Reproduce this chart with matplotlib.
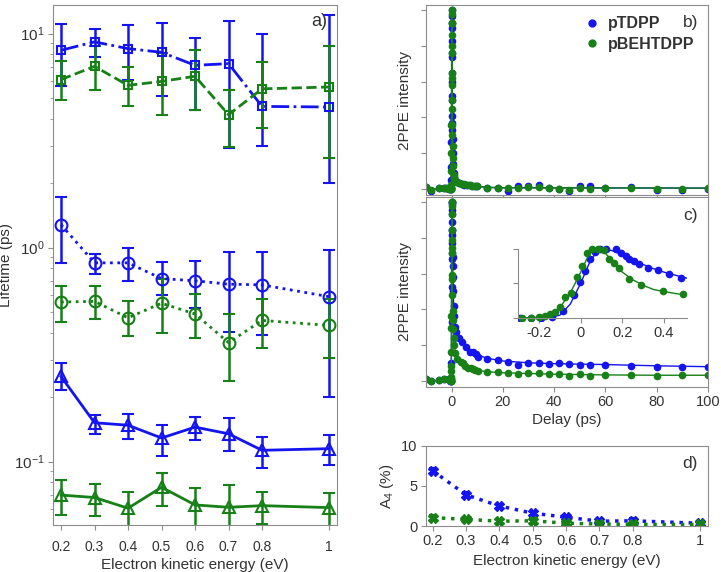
import numpy as np
import matplotlib
matplotlib.use("Agg")
import matplotlib.pyplot as plt

plt.rcParams['font.family'] = ['Liberation Sans', 'DejaVu Sans']
plt.rcParams['mathtext.default'] = 'regular'
plt.rcParams['text.color'] = '#333333'
plt.rcParams['axes.labelcolor'] = '#333333'
plt.rcParams['xtick.color'] = '#333333'
plt.rcParams['ytick.color'] = '#333333'

BLUE = '#1414f0'
GREEN = '#178017'
SPINE = '#8c8c8c'

# ---- panel a: lifetimes vs kinetic energy ----
energy = [0.2, 0.3, 0.4, 0.5, 0.6, 0.7, 0.8, 1.0]

sq_blue = [8.36, 9.15, 8.51, 8.18, 7.11, 7.24, 4.57, 4.54]
sq_blue_hi = [11.1, 10.5, 11.0, 11.2, 9.55, 11.5, 10.0, 12.2]
sq_blue_lo = [5.71, 7.78, 6.1, 5.09, 4.41, 2.92, 3.0, 2.0]
sq_green = [6.1, 7.03, 5.73, 5.98, 6.32, 4.18, 5.52, 5.63]
sq_green_hi = [7.48, 8.72, 6.99, 8.12, 8.42, 5.48, 7.37, 8.72]
sq_green_lo = [4.88, 5.48, 4.61, 4.18, 4.38, 2.94, 3.62, 2.62]

ci_blue = [1.28, 0.849, 0.849, 0.717, 0.70, 0.675, 0.67, 0.59]
ci_blue_hi = [1.72, 0.934, 0.996, 0.859, 0.87, 0.95, 0.95, 0.98]
ci_blue_lo = [0.849, 0.757, 0.70, 0.60, 0.52, 0.405, 0.39, 0.20]
ci_green = [0.557, 0.561, 0.47, 0.55, 0.49, 0.36, 0.457, 0.433]
ci_green_hi = [0.66, 0.66, 0.561, 0.71, 0.61, 0.49, 0.577, 0.577]
ci_green_lo = [0.45, 0.465, 0.385, 0.40, 0.38, 0.238, 0.34, 0.306]

tr_blue = [0.25, 0.152, 0.148, 0.129, 0.145, 0.135, 0.113, 0.115]
tr_blue_hi = [0.289, 0.165, 0.167, 0.148, 0.162, 0.16, 0.13, 0.133]
tr_blue_lo = [0.216, 0.135, 0.127, 0.106, 0.126, 0.112, 0.093, 0.096]
tr_green = [0.0698, 0.068, 0.0606, 0.0759, 0.0628, 0.0612, 0.0623, 0.061]
tr_green_hi = [0.0821, 0.079, 0.0724, 0.0883, 0.0751, 0.0778, 0.0724, 0.0717]
tr_green_lo = [0.0564, 0.0557, 0.049, 0.0621, 0.049, 0.048, 0.051, 0.049]

# ---- panel b: normalised 2PPE transients ----
b_t = [-10, -8, -5, -3, -2, -1, -0.5, -0.3, -0.25, -0.2, -0.15, -0.1, -0.07,
       -0.04, -0.02, 0, 0.02, 0.04, 0.06, 0.08, 0.1, 0.12, 0.15, 0.18, 0.2,
       0.25, 0.3, 0.35, 0.4, 0.5, 0.6, 0.8, 1, 1.3, 2, 3, 4, 5, 6, 7, 8, 9,
       10, 14, 18, 22, 26, 30, 34, 38, 42, 46, 50, 54, 60, 70, 80, 90, 100]
b_blue = [0.01, -0.012, 0.005, 0.005, 0.006, 0.0, 0.0, 0.0, 0.0, 0.002, 0.01,
          0.05, 0.12, 0.26, 0.37, 0.52, 0.6, 0.76, 0.9, 0.97, 1.0, 0.93, 0.83,
          0.74, 0.65, 0.5, 0.41, 0.33, 0.28, 0.2, 0.14, 0.09, 0.065, 0.045,
          0.04, 0.032, 0.027, 0.024, 0.021, 0.019, 0.018, 0.015, 0.013, 0.004,
          0.004, -0.015, 0.013, 0.017, 0.022, 0.004, -0.002, -0.015, 0.013,
          0.018, 0.002, 0.008, -0.006, -0.006, 0.0]
b_green = [0.008, -0.005, 0.004, 0.006, 0.004, 0.0, 0.002, 0.0, 0.0, 0.005,
           0.02, 0.1, 0.2, 0.36, 0.5, 0.65, 0.8, 0.93, 1.0, 0.98, 0.93, 0.86,
           0.76, 0.62, 0.58, 0.45, 0.36, 0.3, 0.24, 0.17, 0.13, 0.08, 0.06,
           0.048, 0.04, 0.034, 0.028, 0.025, 0.022, 0.02, 0.018, 0.016, 0.014,
           0.006, 0.004, 0.006, 0.007, 0.009, 0.009, 0.004, 0.0, -0.006, 0.007,
           -0.002, 0.004, 0.004, -0.002, -0.002, 0.004]
b_fit_t = [-10, -0.3, -0.15, -0.1, -0.05, 0, 0.05, 0.1, 0.15, 0.2, 0.3, 0.5,
           0.7, 1, 2, 4, 8, 14, 20, 100]
b_fit_blue = [0, 0, 0.005, 0.05, 0.25, 0.52, 0.85, 1.0, 0.83, 0.65, 0.41, 0.2,
              0.11, 0.065, 0.04, 0.027, 0.018, 0.008, 0.006, 0.004]
b_fit_green = [0, 0, 0.02, 0.1, 0.36, 0.65, 0.97, 0.93, 0.76, 0.58, 0.36, 0.17,
               0.1, 0.06, 0.04, 0.028, 0.018, 0.008, 0.006, 0.004]

# ---- panel c: transients at another energy (with inset) ----
c_t_blue = [-10, -8, -5, -3, -1, -0.5,
            -0.29, -0.24, -0.19, -0.14, -0.085, -0.031, -0.003, 0.021, 0.045,
            0.07, 0.094, 0.123, 0.172, 0.192, 0.216, 0.232, 0.254, 0.281,
            0.322, 0.371, 0.427, 0.484,
            0.6, 0.8, 1.0, 1.3, 1.9, 3.0, 3.9, 5.8, 7.1, 8.4, 9.7, 10.4,
            14, 18, 22, 26, 30, 34, 38, 42, 46, 50, 54, 60, 70, 80, 90, 100]
c_blue = [0.008, -0.003, 0.005, 0.008, 0.01, 0.0,
          0.0, 0.0, 0.0, 0.01, 0.097, 0.33, 0.524, 0.683, 0.846, 0.956, 1.0,
          1.0, 0.99, 0.934, 0.89, 0.846, 0.815, 0.77, 0.714, 0.692, 0.64, 0.58,
          0.5, 0.42, 0.36, 0.30, 0.27, 0.24, 0.218, 0.19, 0.163, 0.159, 0.148,
          0.13,
          0.12, 0.116, 0.107, 0.088, 0.10, 0.10, 0.092, 0.097, 0.092, 0.09,
          0.09, 0.09, 0.082, 0.077, 0.079, 0.077]
c_t_green = [-10, -8, -5, -3, -1, -0.5,
             -0.28, -0.239, -0.199, -0.174, -0.15, -0.125, -0.101, -0.077,
             -0.047, -0.02, 0.005, 0.029, 0.054, 0.081, 0.11, 0.135, 0.159,
             0.183, 0.232, 0.289, 0.395, 0.493,
             0.6, 0.8, 1.0, 1.3, 2.3, 3.5, 4.5, 5.4, 6.5, 7.4, 8.4, 9.3, 10.4,
             14, 18, 22, 26, 30, 34, 38, 42, 46, 50, 54, 60, 70, 80, 90, 100]
c_green = [0.008, 0.0, 0.005, 0.008, 0.01, 0.005,
           0.0, 0.0, 0.01, 0.022, 0.053, 0.084, 0.163, 0.295, 0.361, 0.595,
           0.745, 0.934, 1.0, 1.0, 0.978, 0.846, 0.789, 0.714, 0.568, 0.48,
           0.392, 0.339,
           0.29, 0.24, 0.2, 0.153, 0.122, 0.107, 0.097, 0.084, 0.073, 0.069,
           0.065, 0.06, 0.054,
           0.05, 0.047, 0.041, 0.038, 0.041, 0.041, 0.036, 0.038, 0.026, 0.036,
           0.028, 0.03, 0.03, 0.025, 0.03, 0.03]
c_fit_t = [-10, -0.3, -0.2, -0.15, -0.1, -0.05, 0, 0.04, 0.07, 0.1, 0.15, 0.2,
           0.25, 0.3, 0.35, 0.4, 0.45, 0.5, 0.7, 1, 1.5, 2, 3, 4, 6, 8, 10, 14,
           20, 30, 40, 60, 80, 100]
c_fit_blue = [0, 0, 0, 0.005, 0.04, 0.2, 0.5, 0.78, 0.93, 1.0, 0.97, 0.91, 0.84,
              0.77, 0.71, 0.66, 0.62, 0.58, 0.46, 0.37, 0.31, 0.28, 0.24, 0.215,
              0.18, 0.16, 0.145, 0.125, 0.11, 0.1, 0.095, 0.09, 0.083, 0.078]
c_fit_green = [0, 0, 0.01, 0.04, 0.15, 0.36, 0.66, 0.92, 1.0, 0.99, 0.83, 0.66,
               0.55, 0.47, 0.41, 0.38, 0.355, 0.33, 0.26, 0.2, 0.155, 0.13, 0.11,
               0.097, 0.075, 0.066, 0.057, 0.05, 0.044, 0.04, 0.036, 0.032,
               0.03, 0.03]

# ---- panel d: A4 amplitude ----
a4_blue = [6.9, 3.9, 2.5, 1.6, 1.1, 0.6, 0.65, 0.35]
a4_green = [1.05, 0.83, 0.6, 0.65, 0.35, 0.25, 0.2, 0.2]
a4_err = 0.3

e_ticks = [0.2, 0.3, 0.4, 0.5, 0.6, 0.7, 0.8, 1.0]
e_labels = ['0.2', '0.3', '0.4', '0.5', '0.6', '0.7', '0.8', '1']


def style(ax, size=10):
    for s in ax.spines.values():
        s.set_color(SPINE)
    ax.tick_params(which='both', direction='out', color=SPINE, labelsize=size,
                   pad=2.5)


def asym(v, lo, hi):
    v = np.array(v)
    return [v - np.array(lo), np.array(hi) - v]


fig = plt.figure(figsize=(7.21, 5.72), dpi=100)

# panel a
axa = fig.add_axes([0.0735, 0.0822, 0.394, 0.909])
eb = dict(capsize=4, capthick=1.8, elinewidth=1.8, lw=2, mfc='none', mew=1.5)
axa.errorbar(energy, sq_blue, yerr=asym(sq_blue, sq_blue_lo, sq_blue_hi),
             color=BLUE, marker='s', ms=6, ls='-.', **eb)
axa.errorbar(energy, sq_green, yerr=asym(sq_green, sq_green_lo, sq_green_hi),
             color=GREEN, marker='s', ms=6, ls='--', **eb)
axa.errorbar(energy, ci_blue, yerr=asym(ci_blue, ci_blue_lo, ci_blue_hi),
             color=BLUE, marker='o', ms=8.5, ls=':', **eb)
axa.errorbar(energy, ci_green, yerr=asym(ci_green, ci_green_lo, ci_green_hi),
             color=GREEN, marker='o', ms=8.5, ls=':', **eb)
axa.errorbar(energy, tr_blue, yerr=asym(tr_blue, tr_blue_lo, tr_blue_hi),
             color=BLUE, marker='^', ms=8.5, ls='-', **eb)
axa.errorbar(energy, tr_green, yerr=asym(tr_green, tr_green_lo, tr_green_hi),
             color=GREEN, marker='^', ms=8.5, ls='-', **eb)
axa.set_yscale('log')
axa.set_ylim(0.0506, 13.6)
axa.set_xlim(0.176, 1.024)
axa.set_xticks(e_ticks)
axa.set_xticklabels(e_labels)
axa.set_xlabel('Electron kinetic energy (eV)', fontsize=11, labelpad=3)
axa.set_ylabel('Lifetime (ps)', fontsize=11, labelpad=1)
axa.text(0.965, 0.985, 'a)', transform=axa.transAxes, ha='right', va='top',
         fontsize=13)
style(axa)
axa.tick_params(axis='y', labelsize=11)
axa.tick_params(axis='x', pad=7)

# panel b
axb = fig.add_axes([0.5908, 0.659, 0.391, 0.332])
axb.plot(b_fit_t, b_fit_blue, color=BLUE, lw=1)
axb.plot(b_t, b_blue, 'o', color=BLUE, ms=4.5, label='pTDPP')
axb.plot(b_fit_t, b_fit_green, color=GREEN, lw=1)
axb.plot(b_t, b_green, 'o', color=GREEN, ms=4.5, label='pBEHTDPP')
axb.set_xlim(-10, 100)
axb.set_ylim(-0.035, 1.03)
axb.set_xticks([0, 20, 40, 60, 80, 100])
axb.set_xticklabels([])
axb.set_yticks([0, 0.2, 0.4, 0.6, 0.8, 1.0])
axb.set_yticklabels([])
axb.set_ylabel('2PPE intensity', fontsize=11, labelpad=4)
axb.text(0.965, 0.95, 'b)', transform=axb.transAxes, ha='right', va='top',
         fontsize=12.5)
axb.legend(loc='upper right', bbox_to_anchor=(0.975, 0.975), frameon=False,
           borderaxespad=0, handlelength=0.6, handletextpad=0.7,
           labelspacing=0.35, markerscale=1.1,
           prop={'weight': 'bold', 'size': 11.5})
style(axb)

# panel c
axc = fig.add_axes([0.5908, 0.324, 0.391, 0.332])
axc.plot(c_fit_t, c_fit_blue, color=BLUE, lw=1)
axc.plot(c_t_blue, c_blue, 'o', color=BLUE, ms=4.5)
axc.plot(c_fit_t, c_fit_green, color=GREEN, lw=1)
axc.plot(c_t_green, c_green, 'o', color=GREEN, ms=4.5)
axc.set_xlim(-10, 100)
axc.set_ylim(-0.034, 1.031)
axc.set_xticks([0, 20, 40, 60, 80, 100])
axc.set_yticks([0, 0.2, 0.4, 0.6, 0.8, 1.0])
axc.set_yticklabels([])
axc.set_xlabel('Delay (ps)', fontsize=11, labelpad=3)
axc.set_ylabel('2PPE intensity', fontsize=11, labelpad=4)
axc.text(0.965, 0.94, 'c)', transform=axc.transAxes, ha='right', va='top',
         fontsize=12.5)
style(axc, 10.5)

# inset of c
axi = fig.add_axes([0.7189, 0.4393, 0.2336, 0.1323])
axi.plot(c_fit_t, c_fit_blue, color=BLUE, lw=1)
axi.plot(c_t_blue, c_blue, 'o', color=BLUE, ms=4.5)
axi.plot(c_fit_t, c_fit_green, color=GREEN, lw=1)
axi.plot(c_t_green, c_green, 'o', color=GREEN, ms=4.5)
axi.set_xlim(-0.3, 0.51)
axi.set_ylim(-0.04, 1.05)
axi.spines['bottom'].set_position(('data', 0))
axi.spines['left'].set_bounds(0, 1)
axi.set_xticks([-0.2, 0, 0.2, 0.4])
axi.set_xticklabels(['-0.2', '0', '0.2', '0.4'])
axi.set_yticks([0, 0.5, 1])
axi.set_yticklabels([])
axi.spines['top'].set_visible(False)
axi.spines['right'].set_visible(False)
axi.patch.set_alpha(0)
style(axi, 10.5)

# panel d
axd = fig.add_axes([0.5908, 0.0804, 0.391, 0.14])
axd.errorbar(energy, a4_blue, yerr=a4_err, color=BLUE, marker='X', ms=7,
             ls=':', lw=2.5, capsize=3, capthick=1.5, elinewidth=1.5)
axd.errorbar(energy, a4_green, yerr=a4_err, color=GREEN, marker='X', ms=7,
             ls=':', lw=2.5, capsize=3, capthick=1.5, elinewidth=1.5)
axd.set_xlim(0.18, 1.025)
axd.set_ylim(0, 10)
axd.set_yticks([0, 5, 10])
axd.set_xticks(e_ticks)
axd.set_xticklabels(e_labels)
axd.set_xlabel('Electron kinetic energy (eV)', fontsize=11, labelpad=4)
axd.set_ylabel('A$_4$ (%)', fontsize=11, labelpad=4)
axd.text(0.965, 0.88, 'd)', transform=axd.transAxes, ha='right', va='top',
         fontsize=12.5)
style(axd, 10.5)

fig.savefig('out.png', dpi=100)
